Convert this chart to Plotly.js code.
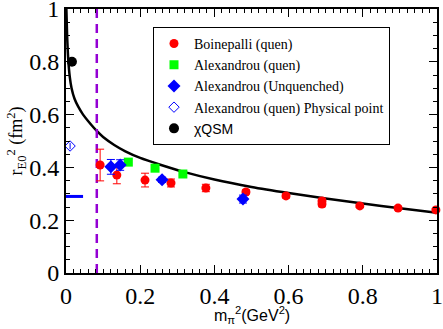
<!DOCTYPE html>
<html>
<head>
<meta charset="utf-8">
<script src="https://cdn.plot.ly/plotly-3.0.1.min.js"></script>
<style>
	body { margin: 0; background: #fff; }
	#chart { width: 443px; height: 329px; }
</style>
</head>
<body>
<div id="chart"></div>
<script>
// Boinepalli (quenched)
var boinX   = [ 0.092, 0.137, 0.213, 0.283, 0.377, 0.485, 0.593, 0.690, 0.690, 0.792, 0.895, 0.997 ],
	boinY   = [ 0.409, 0.371, 0.352, 0.341, 0.322, 0.307, 0.292, 0.273, 0.261, 0.254, 0.246, 0.239 ],
	boinErr = [ 0.060, 0.033, 0.026, 0.015, 0.014, 0.008, 0.008, 0.010, 0.010, 0.006, 0.007, 0.006 ];

// Alexandrou (quenched)
var alexQX = [ 0.168, 0.240, 0.315 ],
	alexQY = [ 0.420, 0.397, 0.375 ];

// Alexandrou (unquenched)
var alexUX   = [ 0.121, 0.146, 0.259, 0.477 ],
	alexUY   = [ 0.402, 0.409, 0.353, 0.280 ],
	alexUErr = [ 0.028, 0.020, 0.010, 0.015 ];

// Alexandrou (quen) physical point
var physX = [ 0.011 ], physY = [ 0.481 ], physErr = [ 0.012 ];

// chiQSM
var qsmX = [ 0.016 ], qsmY = [ 0.80 ];

// experiment mark and physical pion line
var expX = [ 0, 0.046 ], expY = [ 0.29, 0.29 ];
var piX  = [ 0.083, 0.083 ], piY = [ 0, 1 ];

// chiral fit curve
var fitX = [ 0.001, 0.003, 0.006, 0.010, 0.015, 0.023, 0.033, 0.046, 0.060, 0.083, 0.10, 0.13, 0.16, 0.20, 0.25, 0.32, 0.40, 0.50, 0.60, 0.70, 0.80, 0.90, 1.0 ],
	fitY = [ 1.00, 0.90, 0.81, 0.745, 0.70, 0.66, 0.63, 0.60, 0.575, 0.538, 0.515, 0.485, 0.461, 0.436, 0.412, 0.382, 0.354, 0.326, 0.303, 0.282, 0.263, 0.245, 0.228 ];

var serif = "Liberation Serif, Times New Roman, serif",
	sans  = "Liberation Sans, Arial, sans-serif";

var data = [
	{ x: fitX, y: fitY, mode: "lines", line: { color: "#000", width: 2.5, shape: "spline", smoothing: 0.6 }, showlegend: false, hoverinfo: "skip" },
	{ x: piX, y: piY, mode: "lines", line: { color: "#9400d3", width: 2.5, dash: "9px,6px" }, showlegend: false },
	{ x: expX, y: expY, mode: "lines", line: { color: "#0000ff", width: 3 }, showlegend: false, cliponaxis: false },
	{
		x: boinX, y: boinY, mode: "markers", name: "Boinepalli (quen)", cliponaxis: false,
		marker: { symbol: "circle", color: "#ff0000", size: 9 },
		error_y: { type: "data", array: boinErr, color: "#ff0000", thickness: 1, width: 4 }
	},
	{
		x: alexQX, y: alexQY, mode: "markers", name: "Alexandrou (quen)", cliponaxis: false,
		marker: { symbol: "square", color: "#00ff00", size: 9 }
	},
	{
		x: alexUX, y: alexUY, mode: "markers", name: "Alexandrou (Unquenched)", cliponaxis: false,
		marker: { symbol: "diamond", color: "#0000ff", size: 10 },
		error_y: { type: "data", array: alexUErr, color: "#0000ff", thickness: 1, width: 4 }
	},
	{
		x: physX, y: physY, mode: "markers", name: "Alexandrou (quen) Physical point", cliponaxis: false,
		marker: { symbol: "diamond-open", color: "#0000ff", size: 8, line: { width: 1 } },
		error_y: { type: "data", array: physErr, color: "#0000ff", thickness: 1, width: 0 }
	},
	{
		x: qsmX, y: qsmY, mode: "markers", name: "<span style='font-family:Liberation Sans'>χQSM</span>", cliponaxis: false,
		marker: { symbol: "circle", color: "#000", size: 10 }
	}
];

var tickVals = [ 0, 0.2, 0.4, 0.6, 0.8, 1 ],
	tickText = [ "0", "0.2", "0.4", "0.6", "0.8", "1" ];

var axisCommon = {
	range: [ 0, 1 ],
	tickmode: "array",
	tickvals: tickVals,
	ticktext: tickText,
	ticklabeloverflow: "allow",
	showline: true,
	linecolor: "#000",
	linewidth: 2,
	mirror: "allticks",
	ticks: "inside",
	ticklen: 8,
	tickwidth: 1,
	tickcolor: "#000",
	showgrid: false,
	zeroline: false,
	tickfont: { family: serif, size: 24, color: "#000" }
};

var layout = {
	width: 443,
	height: 329,
	margin: { l: 66, r: 6, t: 9, b: 56 },
	paper_bgcolor: "#fff",
	plot_bgcolor: "#fff",
	showlegend: true,
	xaxis: Object.assign( {}, axisCommon, {
		minor: { dtick: 0.02, ticks: "inside", ticklen: 4, tickcolor: "#000" }
	} ),
	yaxis: Object.assign( {}, axisCommon, {
		minor: { dtick: 0.05, ticks: "inside", ticklen: 4, tickcolor: "#000" },
		title: { text: "r<sub>E0</sub><sup>2</sup> (fm<sup>2</sup>)", font: { family: serif, size: 18, color: "#000" }, standoff: 0 }
	} ),
	// x title as an annotation so it can sit lower than the margin allows
	annotations: [
		{
			text: "m<sub>π</sub><sup>2</sup>(GeV<sup>2</sup>)",
			xref: "paper", yref: "paper", x: 0.5, y: -0.16,
			xanchor: "center", yanchor: "middle",
			showarrow: false,
			font: { family: sans, size: 16, color: "#000" }
		}
	],
	legend: {
		x: 0.2345, y: 0.932, xanchor: "left", yanchor: "top",
		bgcolor: "#fff",
		bordercolor: "#000",
		borderwidth: 1,
		font: { family: serif, size: 14, color: "#000" },
		itemwidth: 30,
		tracegroupgap: 0
	}
};

Plotly.newPlot( "chart", data, layout, { staticPlot: true } );
</script>
</body>
</html>
